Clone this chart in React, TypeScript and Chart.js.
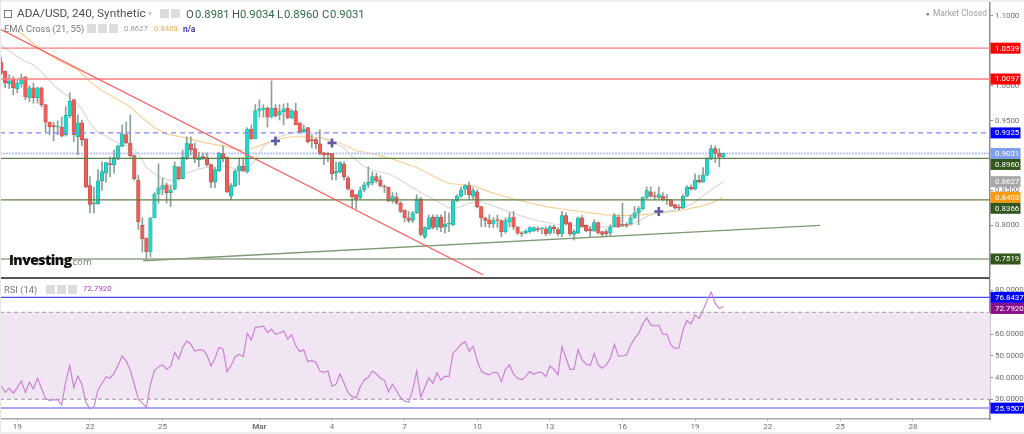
import React, { useEffect, useRef } from "react";
import { Chart, registerables } from "chart.js";

Chart.register(...registerables);

const opens = [
  1.034,1.021,1.003,1.010,.996,1.003,1.013,.983,.997,.983,
  .997,.973,.948,.943,.941,.941,.930,.957,.980,.927,
  .947,.924,.857,.831,.831,.864,.875,.888,.887,.895,
  .913,.930,.918,.900,.865,.800,.782,.762,.811,.845,
  .852,.858,.847,.852,.884,.867,.897,.917,.910,.894,
  .898,.897,.887,.862,.878,.903,.898,.842,.857,.878,
  .885,.877,.938,.924,.964,.966,.968,.955,.968,.958,
  .963,.968,.954,.964,.947,.934,.940,.923,.923,.917,
  .904,.903,.903,.875,.877,.888,.868,.851,.844,.840,
  .851,.858,.861,.870,.865,.856,.855,.835,.841,.832,
  .822,.811,.807,.818,.838,.784,.795,.812,.798,.812,
  .798,.802,.801,.835,.842,.852,.857,.842,.848,.827,
  .811,.808,.802,.808,.807,.791,.805,.812,.798,.789,
  .789,.791,.792,.795,.795,.795,.789,.798,.794,.788,
  .814,.804,.787,.789,.811,.800,.795,.792,.804,.791,
  .791,.789,.798,.812,.801,.801,.802,.811,.818,.824,
  .840,.848,.842,.840,.842,.837,.837,.830,.826,.825,
  .842,.855,.852,.865,.862,.872,.895,.910,.903,.8981,
];
const highs = [
  1.041,1.021,1.016,1.013,1.008,1.017,1.013,1.000,1.004,.998,
  .998,.973,.948,.948,.950,.955,.970,.990,.981,.958,
  .951,.924,.870,.855,.880,.891,.890,.898,.908,.915,
  .944,.948,.958,.901,.872,.811,.782,.811,.847,.888,
  .868,.861,.858,.891,.884,.908,.927,.927,.918,.905,
  .904,.904,.888,.883,.905,.914,.898,.860,.880,.897,
  .897,.940,.944,.973,.980,.973,.970,1.007,.973,.973,
  .974,.975,.966,.975,.947,.944,.940,.930,.925,.937,
  .905,.905,.903,.891,.891,.891,.870,.851,.844,.855,
  .862,.884,.877,.875,.871,.858,.855,.847,.847,.834,
  .822,.820,.820,.844,.840,.798,.815,.815,.815,.815,
  .820,.818,.837,.844,.855,.858,.862,.854,.851,.827,
  .812,.815,.811,.815,.808,.811,.818,.820,.798,.791,
  .794,.798,.798,.798,.797,.798,.800,.800,.797,.820,
  .818,.804,.794,.812,.814,.801,.798,.808,.805,.791,
  .794,.801,.817,.815,.832,.804,.815,.827,.827,.841,
  .855,.855,.848,.855,.847,.844,.837,.830,.830,.844,
  .857,.858,.874,.872,.883,.897,.915,.914,.910,.9034,
];
const lows = [
  1.016,.997,.996,.987,.990,.998,.980,.977,.975,.975,
  .970,.934,.930,.921,.930,.927,.928,.954,.920,.901,
  .914,.854,.818,.818,.830,.850,.862,.870,.875,.894,
  .913,.917,.898,.865,.794,.762,.751,.755,.811,.832,
  .844,.832,.827,.851,.865,.867,.894,.901,.890,.884,
  .894,.885,.854,.854,.877,.891,.847,.837,.855,.858,
  .877,.875,.923,.924,.955,.955,.941,.954,.955,.951,
  .944,.953,.953,.944,.933,.933,.918,.911,.910,.901,
  .887,.891,.865,.865,.875,.865,.851,.825,.824,.838,
  .848,.854,.858,.861,.855,.847,.834,.832,.830,.818,
  .805,.804,.804,.817,.785,.781,.794,.795,.794,.791,
  .789,.791,.800,.834,.840,.844,.837,.837,.825,.798,
  .798,.797,.797,.797,.784,.789,.798,.794,.787,.784,
  .788,.789,.791,.791,.788,.785,.787,.789,.785,.784,
  .801,.785,.779,.788,.797,.791,.784,.791,.788,.784,
  .785,.784,.798,.797,.798,.797,.801,.810,.801,.822,
  .838,.840,.837,.838,.835,.830,.827,.824,.822,.824,
  .841,.851,.851,.861,.862,.871,.894,.890,.884,.896,
];
const closes = [
  1.018,1.004,1.007,.997,1.004,1.011,.984,.997,.983,.997,
  .973,.948,.941,.941,.942,.928,.958,.978,.930,.947,
  .923,.855,.830,.832,.864,.877,.890,.887,.897,.914,
  .931,.918,.900,.867,.805,.781,.762,.811,.845,.854,
  .857,.847,.851,.885,.867,.898,.918,.908,.895,.898,
  .897,.887,.862,.880,.903,.897,.848,.857,.878,.885,
  .878,.938,.924,.964,.967,.968,.955,.968,.957,.963,
  .967,.954,.964,.944,.934,.938,.920,.921,.917,.903,
  .901,.901,.874,.877,.890,.870,.852,.841,.838,.850,
  .858,.862,.870,.864,.857,.855,.835,.842,.832,.820,
  .811,.807,.818,.838,.787,.797,.811,.797,.812,.797,
  .802,.803,.835,.842,.851,.857,.844,.850,.827,.811,
  .807,.802,.807,.807,.791,.807,.811,.798,.789,.788,
  .792,.797,.797,.794,.796,.788,.798,.795,.788,.814,
  .802,.788,.791,.811,.798,.792,.792,.804,.789,.787,
  .788,.798,.814,.798,.800,.800,.811,.818,.824,.840,
  .850,.842,.841,.844,.837,.836,.828,.825,.825,.842,
  .855,.852,.865,.862,.872,.895,.910,.903,.898,.9031,
];

const ema21Bars = [0,2,5,8,10,13,15,18,20,22,24,26,28,30,32,34,36,38,40,42,44,46,49,52,56,59,61,63,65,68,71,74,77,80,83,85,87,90,93,96,99,102,105,108,111,113,116,119,122,127,132,137,142,147,152,156,159,162,165,168,171,174,176,179];
const ema21Values = [1.058,1.050,1.038,1.030,1.020,1.001,.991,.980,.967,.947,.933,.928,.921,.915,.914,.903,.883,.874,.868,.864,.870,.875,.881,.884,.884,.880,.880,.894,.913,.925,.931,.935,.933,.924,.917,.911,.898,.884,.878,.874,.865,.854,.844,.835,.825,.825,.832,.834,.828,.817,.808,.802,.800,.798,.798,.800,.810,.818,.820,.824,.830,.842,.851,.8627];
const ema55Bars = [4,10,15,19,22,25,29,32,35,38,41,46,51,55,59,61,64,68,72,76,80,84,88,92,97,103,108,111,117,121,125,129,135,142,150,156,162,168,173,176,179];
const ema55Values = [1.080,1.051,1.034,1.023,1.006,.993,.980,.970,.954,.940,.931,.925,.918,.914,.908,.908,.914,.923,.927,.927,.925,.918,.907,.903,.895,.883,.868,.860,.857,.848,.841,.835,.827,.821,.815,.814,.817,.821,.827,.832,.8403];

const rsiValues = [
  36.1,33.2,35.1,32.8,35.4,38.4,33.2,37.8,34.8,39.7,
  35.1,30.2,29.5,29.7,29.7,27.4,38.1,45.5,35.4,40.7,
  36.9,28.6,25.6,26.6,34.3,37.4,40.3,39.8,42.0,45.8,
  49.9,47.6,43.5,36.9,30.2,28.2,26.3,36.9,43.2,45.0,
  45.8,43.8,45.0,51.5,48.5,53.8,56.8,55.3,52.2,52.7,
  52.7,50.4,45.3,48.9,53.8,53.0,42.7,45.5,49.6,50.7,
  49.6,60.3,57.3,63.1,63.3,63.6,60.7,62.3,59.9,60.5,
  61.4,57.7,59.6,54.7,51.9,52.7,47.3,47.9,47.0,43.0,
  42.4,43.0,36.0,36.9,41.6,37.4,33.1,31.2,30.6,35.8,
  38.9,40.1,43.0,41.6,39.7,38.7,33.5,36.9,33.8,30.8,
  29.2,28.6,34.3,43.0,30.9,35.4,39.9,37.4,42.1,38.9,
  40.6,40.4,51.1,53.1,55.3,56.5,52.2,54.4,47.6,43.0,
  41.8,41.2,42.4,42.3,38.1,43.8,45.8,41.6,39.7,39.0,
  40.4,42.7,41.5,42.4,42.4,40.4,45.3,43.8,41.2,54.2,
  48.9,43.8,43.9,52.8,48.1,46.1,45.6,51.0,45.8,44.3,
  45.8,48.9,55.3,49.8,49.9,50.4,54.7,58.0,60.2,64.5,
  67.5,64.2,63.7,64.2,59.9,60.0,55.0,53.4,53.6,61.9,
  66.2,64.6,68.8,67.1,71.1,75.7,79.2,74.1,71.7,72.792,
];

const crossBars = [68, 82, 163];
const crossPrices = [.921, .918, .820];

const redLevels = [1.0539, 1.0097];
const supportLevels = [.896, .8366];
const baseLevel = .7519;
const dashedLevel = .9325;
const lastPrice = .9031;
const fallingLineBars = [-0.29, 119.4];
const fallingLinePrices = [1.0814, .7293];
const risingLineBars = [35.2, 203];
const risingLinePrices = [.7494, .8];

const priceTicks = [1.1, 1.05, 1, .95, .9, .85, .8, .75];
const rsiTicks = [80, 70, 60, 50, 40, 30];
const rsiLevels = [76.8437, 25.9507];
const rsiBand = [70, 30];
const dateBars = [4, 22, 40, 64, 82, 100, 118, 136, 154, 172, 190, 208, 226];
const dateLabels = ["19", "22", "25", "Mar", "4", "7", "10", "13", "16", "19", "22", "25", "28"];

const priceTagValues = [1.0539, 1.0097, .9325, .9031, .896, .8627, .8403, .8366, .7519];
const priceTagColors = ["#ff0000", "#ff0000", "#0000ff", "#7f9ff0", "#33561c", "#a8a8a8", "#ff9a0d", "#33561c", "#33561c"];
const rsiTagValues = [76.8437, 72.792, 25.9507];
const rsiTagColors = ["#0000ff", "#8a0f8a", "#0000ff"];

const X_MIN = -0.29;
const X_MAX = 245.1;
const FONT = "Roboto, sans-serif";
const AXIS = "#8c8c8c";
const TICK_TEXT = "#6e6e6e";

const tagPlugin = (values: number[], colors: string[], width: number) => ({
  id: "tags",
  afterDraw(chart: any) {
    const { ctx, scales } = chart;
    let prev = -100;
    ctx.save();
    ctx.font = `7.9px ${FONT}`;
    ctx.textBaseline = "middle";
    values.forEach((v, k) => {
      const y = Math.max(scales.y.getPixelForValue(v), prev + 11);
      prev = y;
      ctx.fillStyle = colors[k];
      ctx.fillRect(990.5, y - 5.5, width, 11);
      ctx.fillStyle = "#ffffff";
      ctx.fillText(v.toFixed(4), 995, y + 0.5);
    });
    ctx.restore();
  },
});

const hline = (y: number, color: string, width: number, order: number, dash: number[] = []) => ({
  type: "line" as const,
  data: [{ x: X_MIN, y }, { x: X_MAX, y }],
  borderColor: color,
  borderWidth: width,
  borderDash: dash,
  pointRadius: 0,
  order,
});

const segment = (bars: number[], values: number[], color: string, width: number, order: number) => ({
  type: "line" as const,
  data: bars.map((x, k) => ({ x, y: values[k] })),
  borderColor: color,
  borderWidth: width,
  pointRadius: 0,
  order,
});

const yAxis = (min: number, max: number, ticks: number[]) => ({
  position: "right" as const,
  min,
  max,
  afterFit(s: any) { s.width = 34; s.paddingTop = 0; s.paddingBottom = 0; },
  afterBuildTicks(s: any) { s.ticks = ticks.map((value) => ({ value })); },
  border: { display: true, color: AXIS, width: 1.5 },
  grid: { drawOnChartArea: false, drawTicks: true, tickLength: 3, tickColor: AXIS },
  ticks: {
    color: TICK_TEXT,
    font: { family: FONT, size: 7.9 },
    padding: 2,
    autoSkip: false,
    callback: (v: any) => Number(v).toFixed(4),
  },
});

const baseOptions = { responsive: false, animation: false as const, plugins: { legend: { display: false }, tooltip: { enabled: false } }, layout: { padding: 0, autoPadding: false } };

const Icons = ({ x, y, n }: { x: number; y: number; n: number }) => (
  <>
    {Array.from({ length: n }).map((_, k) => (
      <div key={k} style={{ position: "absolute", left: x + k * 11, top: y, width: 9, height: 9, background: "#dcdcdc" }} />
    ))}
  </>
);

const label = (left: number, top: number, text: string, style: React.CSSProperties = {}) => (
  <div style={{ position: "absolute", left, top, whiteSpace: "nowrap", fontFamily: FONT, lineHeight: 1, ...style }}>{text}</div>
);

export default function App() {
  const topRef = useRef<HTMLCanvasElement>(null);
  const bottomRef = useRef<HTMLCanvasElement>(null);

  useEffect(() => {
    document.body.style.margin = "0";
    document.body.style.background = "#ffffff";
    const bars = opens.map((_, i) => i);
    const isUp = (i: number) => closes[i] >= opens[i];
    const top = new Chart(topRef.current as any, {
      type: "bar",
      data: {
        datasets: [
          ...redLevels.map((v) => hline(v, "#ff7f7f", 1.3, 2)),
          ...supportLevels.map((v) => hline(v, "#5f8046", 1.2, 2)),
          hline(baseLevel, "#93a586", 1.5, 2),
          hline(dashedLevel, "#8484f4", 1.2, 2, [5, 4]),
          hline(lastPrice, "#bcc8f6", 2, 7, [2, 1]),
          segment(ema21Bars, ema21Values, "#d9d9d9", 1.2, 8),
          segment(ema55Bars, ema55Values, "#fbcf95", 1.2, 8),
          segment(fallingLineBars, fallingLinePrices, "#ff5a5a", 1.3, 1),
          segment(risingLineBars, risingLinePrices, "#7d9a72", 1.3, 2),
          {
            type: "bar" as const,
            data: bars.map((i) => ({ x: i, y: [lows[i], highs[i]] })),
            backgroundColor: "#8ba194",
            barThickness: 1,
            grouped: false,
            order: 6,
          },
          {
            type: "bar" as const,
            data: bars.map((i) => ({ x: i, y: [opens[i], closes[i]] })),
            backgroundColor: bars.map((i) => (isUp(i) ? "#1dd9cb" : "#ee5d56")),
            borderColor: bars.map((i) => (isUp(i) ? "#2a9d92" : "#b5504a")),
            borderWidth: 0.6,
            borderSkipped: false,
            minBarLength: 1,
            barThickness: 3.6,
            grouped: false,
            order: 5,
          },
          {
            type: "scatter" as const,
            data: crossBars.map((x, k) => ({ x, y: crossPrices[k] })),
            pointStyle: "cross",
            pointRadius: 4.5,
            pointBorderWidth: 2.6,
            pointBorderColor: "#5f5aa8",
            order: 0,
          },
        ] as any,
      },
      options: {
        ...baseOptions,
        scales: {
          x: { type: "linear", min: X_MIN, max: X_MAX, offset: false, display: false },
          y: yAxis(.7261, 1.1229, priceTicks),
        },
      } as any,
      plugins: [tagPlugin(priceTagValues, priceTagColors, 30)] as any,
    });

    const bottom = new Chart(bottomRef.current as any, {
      type: "line",
      data: {
        datasets: [
          {
            data: [{ x: X_MIN, y: rsiBand[0] }, { x: X_MAX, y: rsiBand[0] }],
            borderColor: "#a39aa3",
            borderWidth: 1,
            borderDash: [4, 3],
            pointRadius: 0,
            fill: { value: rsiBand[1] },
            backgroundColor: "#f1e4f3",
            order: 5,
          },
          hline(rsiBand[1], "#a39aa3", 1, 4, [4, 3]),
          hline(rsiLevels[0], "#4a4af2", 1.1, 3),
          hline(rsiLevels[1], "#a8a8fa", 2, 3),
          {
            data: bars.map((i) => ({ x: i, y: rsiValues[i] })),
            borderColor: "#c884d2",
            borderWidth: 1.2,
            pointRadius: 0,
            order: 1,
          },
        ] as any,
      },
      options: {
        ...baseOptions,
        scales: {
          x: {
            type: "linear",
            min: X_MIN,
            max: X_MAX,
            offset: false,
            afterFit(s: any) { s.height = 15; s.paddingLeft = 0; s.paddingRight = 0; },
            afterBuildTicks(s: any) { s.ticks = dateBars.map((value) => ({ value })); },
            border: { display: true, color: "#a8a8a8", width: 1.5 },
            grid: { drawOnChartArea: false, drawTicks: true, tickLength: 2, tickColor: "#a8a8a8" },
            ticks: {
              color: TICK_TEXT,
              font: (c: any) => ({ family: FONT, size: 8, weight: c.tick && c.tick.value === 64 ? "bold" : "normal" }),
              padding: 1,
              autoSkip: false,
              maxRotation: 0,
              callback: (v: any) => dateLabels[dateBars.indexOf(Number(v))] ?? "",
            },
          },
          y: yAxis(20.94, 85.3, rsiTicks),
        },
      } as any,
      plugins: [tagPlugin(rsiTagValues, rsiTagColors, 34)] as any,
    });
    return () => { top.destroy(); bottom.destroy(); };
  }, []);

  return (
    <div style={{ position: "absolute", left: 0, top: 0, width: 1024, height: 434, overflow: "hidden", background: "#fff" }}>
      <canvas ref={topRef} width={1024} height={277} style={{ position: "absolute", left: 0, top: 0, display: "block" }} />
      <canvas ref={bottomRef} width={1024} height={155} style={{ position: "absolute", left: 0, top: 279, display: "block" }} />
      <div style={{ position: "absolute", left: 0, top: 277, width: 990, height: 2, background: "#565656" }} />
      <div style={{ position: "absolute", left: 0, top: 0, width: 1024, height: 2, background: "#eeeef3" }} />
      <div style={{ position: "absolute", left: 0, top: 0, width: 1, height: 434, background: "#e6e6e6" }} />
      <div style={{ position: "absolute", left: 0, top: 432, width: 1024, height: 2, background: "#eeeeee" }} />

      <div style={{ position: "absolute", left: 4, top: 10, width: 8, height: 8, border: "1px solid #777", boxSizing: "border-box" }} />
      {label(17, 8, "ADA/USD, 240, Synthetic", { fontSize: 11.8, color: "#4f4f4f" })}
      {label(148, 10, "▾", { fontSize: 8, color: "#c8c8c8" })}
      <Icons x={160} y={9} n={2} />
      {label(186, 9, "O", { fontSize: 11.3, color: "#4f4f4f" })}
      {label(195, 9, "0.8981", { fontSize: 11.3, color: "#2f6a46" })}
      {label(232, 9, "H", { fontSize: 11.3, color: "#4f4f4f" })}
      {label(240, 9, "0.9034", { fontSize: 11.3, color: "#2f6a46" })}
      {label(277, 9, "L", { fontSize: 11.3, color: "#4f4f4f" })}
      {label(284, 9, "0.8960", { fontSize: 11.3, color: "#2f6a46" })}
      {label(322, 9, "C", { fontSize: 11.3, color: "#4f4f4f" })}
      {label(330, 9, "0.9031", { fontSize: 11.3, color: "#2f6a46" })}

      {label(4, 24, "EMA Cross (21, 55)", { fontSize: 9.4, color: "#777" })}
      {label(75, 25, "▾", { fontSize: 7, color: "#c8c8c8" })}
      <Icons x={87} y={24} n={3} />
      {label(124, 25, "0.8627", { fontSize: 7.8, color: "#9a9a9a" })}
      {label(154, 25, "0.8403", { fontSize: 7.8, color: "#f9a84a" })}
      {label(183, 25, "n/a", { fontSize: 8.4, color: "#2f2f9a", fontWeight: 600 })}

      {label(926, 11, "●", { fontSize: 6, color: "#777" })}
      {label(933, 9, "Market Closed", { fontSize: 8.4, color: "#a0a0a0" })}

      {label(9, 253, "Investing", { fontSize: 14, fontWeight: 800, color: "#111", letterSpacing: -0.55, fontFamily: "'Open Sans', sans-serif" })}
      {label(70, 257, ".com", { fontSize: 9.6, color: "#777", fontFamily: "'Open Sans', sans-serif" })}

      {label(4, 285, "RSI (14)", { fontSize: 9.4, color: "#777" })}
      {label(34, 286, "▾", { fontSize: 7, color: "#c8c8c8" })}
      <Icons x={46} y={285} n={3} />
      {label(83, 285, "72.7920", { fontSize: 7.9, color: "#a53fb3" })}
    </div>
  );
}
